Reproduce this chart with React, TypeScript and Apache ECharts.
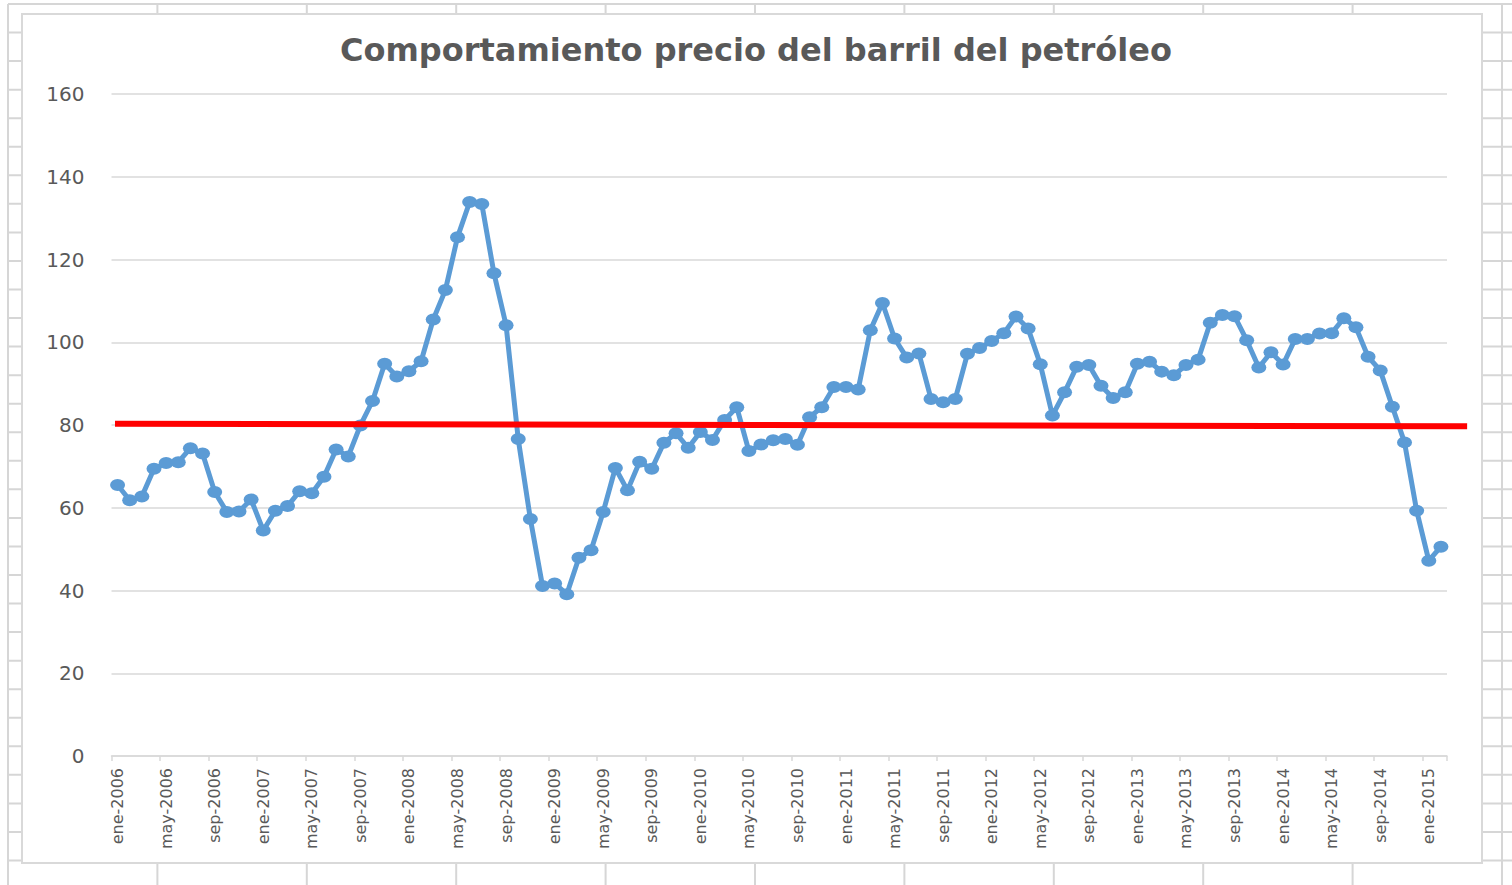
import React, { useEffect, useRef } from "react";
import * as echarts from "echarts";

// Spanish month abbreviations and years of the monthly series
const MONTHS = ["ene", "feb", "mar", "abr", "may", "jun", "jul", "ago", "sep", "oct", "nov", "dic"];
const YEARS = [2006, 2007, 2008, 2009, 2010, 2011, 2012, 2013, 2014, 2015];

// Monthly price of the barrel (USD)
const P2006 = [65.5, 61.8, 62.7, 69.4, 70.8, 71.0, 74.4, 73.1, 63.8, 59.0, 59.1, 62.0];
const P2007 = [54.5, 59.3, 60.4, 64.0, 63.5, 67.5, 74.1, 72.4, 79.9, 85.8, 94.8, 91.7];
const P2008 = [93.0, 95.4, 105.5, 112.6, 125.4, 133.9, 133.4, 116.7, 104.1, 76.6, 57.3, 41.1];
const P2009 = [41.7, 39.1, 47.9, 49.7, 59.0, 69.6, 64.2, 71.1, 69.4, 75.7, 78.0, 74.5];
const P2010 = [78.3, 76.4, 81.2, 84.3, 73.7, 75.3, 76.3, 76.6, 75.2, 81.9, 84.3, 89.2];
const P2011 = [89.2, 88.6, 102.9, 109.5, 100.9, 96.3, 97.3, 86.3, 85.5, 86.3, 97.2, 98.6];
const P2012 = [100.3, 102.2, 106.2, 103.3, 94.7, 82.3, 87.9, 94.1, 94.5, 89.5, 86.5, 87.9];
const P2013 = [94.8, 95.3, 92.9, 92.0, 94.5, 95.8, 104.7, 106.6, 106.3, 100.5, 93.9, 97.6];
const P2014 = [94.6, 100.8, 100.8, 102.1, 102.2, 105.8, 103.6, 96.5, 93.2, 84.4, 75.8, 59.3];
const P2015 = [47.2, 50.6];

// Red reference line: [month index, value] at its two ends
const REF_LINE_START = [-0.21, 80.3];
const REF_LINE_END = [111.16, 79.7];

// Y axis ticks
const Y_MIN = 0;
const Y_MAX = 160;
const Y_STEP = 20;

const TITLE = "Comportamiento precio del barril del petróleo";

const PRICES = [...P2006, ...P2007, ...P2008, ...P2009, ...P2010, ...P2011, ...P2012, ...P2013, ...P2014, ...P2015];
const CATEGORIES = YEARS.flatMap((y) => MONTHS.map((m) => `${m}-${y}`)).slice(0, PRICES.length);

const GRAY = "#595959";
const SHEET = "#d6d6d6";

// plot layout
const PLOT_LEFT = 111.5;
const PLOT_TOP = 94;
const PLOT_W = 1335.5;
const PLOT_H = 662;
const WIDE_W = 1512 - PLOT_LEFT;

function sheetGrid() {
  const els: any[] = [];
  for (let k = 0; k <= 10; k++) {
    const x = 8 + 149.4 * k;
    els.push({ type: "line", z: -10, silent: true, shape: { x1: x, y1: 4, x2: x, y2: 885 }, style: { stroke: SHEET, lineWidth: 2 } });
  }
  for (let k = 0; k <= 31; k++) {
    const y = 4 + 28.55 * k;
    els.push({ type: "line", z: -10, silent: true, shape: { x1: 8, y1: y, x2: 1512, y2: y }, style: { stroke: SHEET, lineWidth: 2 } });
  }
  els.push({
    type: "rect",
    z: -5,
    silent: true,
    shape: { x: 22, y: 14, width: 1460, height: 849 },
    style: { fill: "#ffffff", stroke: "#d9d9d9", lineWidth: 2 },
  });
  return els;
}

export default function App() {
  const ref = useRef<HTMLDivElement>(null);

  useEffect(() => {
    if (!ref.current) return;
    const chart = echarts.init(ref.current, undefined, { renderer: "svg" });
    const n = CATEGORIES.length;
    const perCat = PLOT_W / n;
    chart.setOption({
      animation: false,
      backgroundColor: "#ffffff",
      graphic: { elements: sheetGrid() },
      title: {
        text: TITLE,
        left: "center",
        top: 29,
        textStyle: { fontFamily: "DejaVu Sans", fontWeight: "bold", fontSize: 32, color: GRAY },
      },
      grid: [
        { left: PLOT_LEFT, top: PLOT_TOP, width: PLOT_W, height: PLOT_H, containLabel: false },
        { left: PLOT_LEFT, top: PLOT_TOP, width: WIDE_W, height: PLOT_H, containLabel: false },
      ],
      xAxis: [
        {
          type: "category",
          gridIndex: 0,
          data: CATEGORIES,
          boundaryGap: true,
          axisLine: { show: true, lineStyle: { color: "#d9d9d9", width: 1.5 } },
          axisTick: { show: true, interval: 3, length: 5, alignWithLabel: false, lineStyle: { color: "#d9d9d9", width: 1.5 } },
          axisLabel: {
            interval: 3,
            rotate: 90,
            margin: 12,
            fontFamily: "DejaVu Sans",
            fontSize: 16,
            color: GRAY,
          },
          splitLine: { show: false },
        },
        {
          type: "value",
          gridIndex: 1,
          min: -0.5,
          max: -0.5 + WIDE_W / perCat,
          show: false,
          splitLine: { show: false },
        },
      ],
      yAxis: [
        {
          type: "value",
          gridIndex: 0,
          min: Y_MIN,
          max: Y_MAX,
          interval: Y_STEP,
          axisLine: { show: false },
          axisTick: { show: false },
          axisLabel: { margin: 27, fontFamily: "DejaVu Sans", fontSize: 20, color: GRAY },
          splitLine: { show: true, lineStyle: { color: "#d9d9d9", width: 1.5 } },
        },
        {
          type: "value",
          gridIndex: 1,
          min: Y_MIN,
          max: Y_MAX,
          interval: Y_STEP,
          show: false,
          splitLine: { show: false },
        },
      ],
      series: [
        {
          type: "line",
          name: "Precio",
          data: PRICES,
          xAxisIndex: 0,
          yAxisIndex: 0,
          symbol: "path://M0 5a5 5 0 1 0 10 0a5 5 0 1 0 -10 0z",
          symbolSize: [15, 12],
          showAllSymbol: true,
          lineStyle: { color: "#5B9BD5", width: 5 },
          itemStyle: { color: "#5B9BD5" },
          z: 2,
        },
        {
          type: "line",
          name: "Referencia",
          xAxisIndex: 1,
          yAxisIndex: 1,
          data: [REF_LINE_START, REF_LINE_END],
          showSymbol: false,
          clip: false,
          lineStyle: { color: "#ff0000", width: 6 },
          z: 4,
        },
      ],
    });
    return () => chart.dispose();
  }, []);

  return (
    <div
      ref={ref}
      style={{ position: "fixed", left: 0, top: 0, width: 1512, height: 885, background: "#fff" }}
    />
  );
}
